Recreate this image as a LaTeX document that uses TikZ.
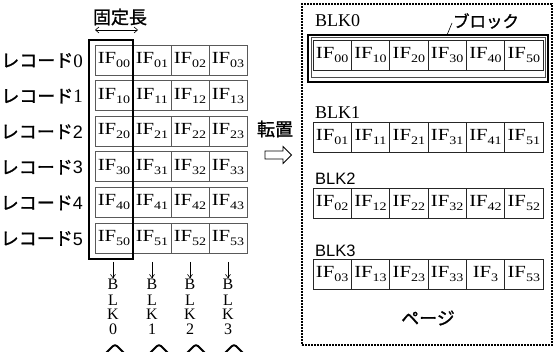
\documentclass[tikz,border=0pt]{standalone}
\usepackage{fontspec}
\setmainfont{Liberation Serif}
\newfontfamily\cellfont[FakeStretch=1.22]{Liberation Serif}
\newfontfamily\jpfont[FakeBold=1.2]{Noto Sans CJK JP}
\newfontfamily\sansfont{Liberation Sans}
\usetikzlibrary{arrows.meta}
\newcommand{\IFtxt}[1]{{\cellfont\fontsize{17}{17}\selectfont IF\raisebox{-4pt}{\fontsize{11.5}{11.5}\selectfont #1}}}
\tikzset{
  lcell/.style={draw=black!65, line width=0.8pt, minimum width=38pt, minimum height=30pt, inner sep=0pt, outer sep=0pt, anchor=north west},
  rcell/.style={draw=black!85, line width=0.8pt, minimum width=38.33pt, minimum height=30pt, inner sep=0pt, outer sep=0pt, anchor=north west},
  thickbox/.style={draw=black, line width=2.3pt, inner sep=0pt, outer sep=0pt, anchor=north west},
  pagebox/.style={draw=black, line width=1.3pt, dash pattern=on 2pt off 1pt, inner sep=0pt, outer sep=0pt, anchor=north west},
  jp/.style={font=\jpfont\fontsize{#1}{#1}\selectfont, inner sep=0pt},
  blklabel/.style={anchor=west, inner sep=0pt},
  vletter/.style={inner sep=0pt, anchor=base, font=\fontsize{16}{16}\selectfont},
  downarr/.style={draw=black, line width=0.6pt, -{Straight Barb[length=3.5pt,width=5pt]}},
  chev/.style={draw=black, line width=1.9pt, rounded corners=3pt}
}
\begin{document}
\begin{tikzpicture}[x=1pt,y=-1pt]
\useasboundingbox (0,0) rectangle (556,352);
% left grid
\foreach \r in {0,...,5} {
  \pgfmathsetmacro\rtop{45+35.6*\r}
  \foreach \c in {0,...,3} {
    \node[lcell] (L\r\c) at ({95+38*\c},\rtop) {\IFtxt{\r\c}};
  }
  \ifnum\r<2
    \node[anchor=east, inner sep=0pt] (R\r) at (83,\rtop+15.5) {{\jpfont\fontsize{18}{18}\selectfont レコード}{\fontsize{19}{19}\selectfont\r}};
  \else
    \node[anchor=east, inner sep=0pt] (R\r) at (83,\rtop+15.5) {{\jpfont\fontsize{18}{18}\selectfont レコード}{\sansfont\fontsize{18}{18}\selectfont\r}};
  \fi
}
\node[thickbox, minimum width=44pt, minimum height=219pt] (col0) at (89,40) {};
% fixed length
\node[jp=18] (fixed) at (120,17) {固定長};
\coordinate (fa) at (95,30);
\coordinate (fb) at (138,30);
\draw[line width=0.6pt, {Straight Barb[length=3.5pt,width=6pt]}-{Straight Barb[length=3.5pt,width=6pt]}] (fa) -- (fb);
% vertical BLK labels and arrows
\foreach \c/\x in {0/113,1/152,2/190,3/228} {
  \node[vletter] (VB\c) at (\x,290) {B};
  \node[vletter] (VL\c) at (\x,305) {L};
  \node[vletter] (VK\c) at (\x,319.5) {K};
  \node[vletter] (VD\c) at (\x,334) {\c};
  \coordinate (A\c) at (\x,262);
  \draw[downarr] (A\c) -- ([yshift=1pt]VB\c.north);
}
\foreach \x in {115,159,196,234} {
  \draw[chev] (\x-9,353) -- (\x,344) -- (\x+9,353);
}
% transpose
\node[jp=18] (tp) at (275,129) {転置};
\draw[line width=0.8pt, line join=miter] (265,151) -- (283,151) -- (283,146.5) -- (291.5,155) -- (283,163.5) -- (283,159) -- (265,159) -- cycle;
% page
\node[pagebox, minimum width=250pt, minimum height=341pt] (page) at (302,4) {};
\node[thickbox, minimum width=240pt, minimum height=47pt] (blk0box) at (308,35) {};
\node[draw=black!70, line width=0.7pt, minimum width=234pt, minimum height=39.5pt, inner sep=0pt, outer sep=0pt, anchor=north west] (blk0in) at (311.5,37.5) {};
\foreach \b/\ytop in {0/40,1/122,2/188,3/259} {
  \foreach \c in {0,...,5} {
    \ifnum\b=3 \ifnum\c=4
      \node[rcell] (P\b\c) at ({313+38.33*\c},\ytop) {\IFtxt{3}};
    \else
      \node[rcell] (P\b\c) at ({313+38.33*\c},\ytop) {\IFtxt{\c\b}};
    \fi
    \else
      \node[rcell] (P\b\c) at ({313+38.33*\c},\ytop) {\IFtxt{\c\b}};
    \fi
  }
}
\node[blklabel, font=\fontsize{18}{18}\selectfont] (B0) at (315,21) {BLK0};
\node[blklabel, font=\fontsize{18}{18}\selectfont] (B1) at (315,113) {BLK1};
\node[blklabel, font=\sansfont\fontsize{16.5}{16.5}\selectfont] (B2) at (315,179) {BLK2};
\node[blklabel, font=\sansfont\fontsize{16.5}{16.5}\selectfont] (B3) at (315,251) {BLK3};
\node[jp=16.5] (blocklbl) at (486,21) {ブロック};
\coordinate (lead1) at (447,35);
\coordinate (lead2) at (452,23);
\draw[line width=0.6pt] (lead1) -- (lead2);
\node[jp=18] (pagelbl) at (428,318) {ページ};
\end{tikzpicture}
\end{document}
